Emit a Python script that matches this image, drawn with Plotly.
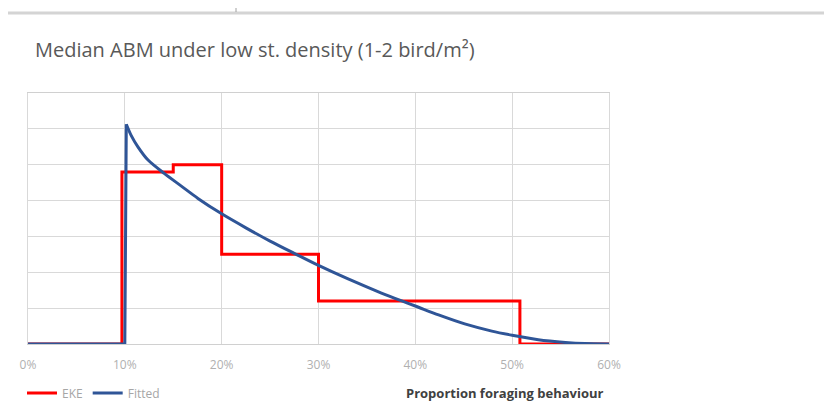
import plotly.graph_objects as go

# EKE step series (proportion foraging, relative density)
eke_x = [0.0, 0.097, 0.15, 0.20, 0.30, 0.508, 0.60]
eke_y = [0.0, 4.8, 5.0, 2.5, 1.2, 0.0, 0.0]

# Fitted curve: rise at 10% and decaying tail
fit_rise_x = [0.0, 0.100, 0.1015]
fit_rise_y = [0.0, 0.0, 6.13]
fit_tail_x = [0.1015, 0.1065, 0.1135, 0.124, 0.141, 0.158, 0.1755, 0.20, 0.225, 0.25,
              0.277, 0.30, 0.33, 0.365, 0.386, 0.40, 0.424, 0.451, 0.479, 0.50,
              0.527, 0.555, 0.575, 0.60]
fit_tail_y = [6.13, 5.82, 5.5, 5.13, 4.75, 4.41, 4.06, 3.63, 3.24, 2.87,
              2.5, 2.19, 1.82, 1.42, 1.2, 1.06, 0.81, 0.56, 0.36, 0.245,
              0.12, 0.045, 0.012, 0.0]

x_ticks = [0, 0.1, 0.2, 0.3, 0.4, 0.5, 0.6]
x_ticklabels = ["0%", "10%", "20%", "30%", "40%", "50%", "60%"]

W, H = 824, 408          # page adds an 8px body margin
L, R, T, B = 20, 223, 85, 72
PW, PH = W - L - R, H - T - B

def px(xs):   # screenshot x -> paper fraction
    return (xs - 8 - L) / PW

def py(ys):   # screenshot y -> paper fraction
    return (H - B - (ys - 8)) / PH

fig = go.Figure()
fig.add_trace(go.Scatter(x=eke_x, y=eke_y, mode="lines", name="EKE",
                         line=dict(color="#ff0000", width=3, shape="hv")))
fig.add_trace(go.Scatter(x=fit_tail_x, y=fit_tail_y, mode="lines", name="Fitted",
                         legendgroup="fit",
                         line=dict(color="#2f5597", width=3, shape="spline", smoothing=0.8)))
fig.add_trace(go.Scatter(x=fit_rise_x, y=fit_rise_y, mode="lines", name="Fitted",
                         legendgroup="fit", showlegend=False,
                         line=dict(color="#2f5597", width=3)))

fig.update_layout(
    width=W, height=H,
    paper_bgcolor="white", plot_bgcolor="white",
    margin=dict(l=L, r=R, t=T, b=B, autoexpand=False),
    font=dict(family="Open Sans, sans-serif", color="#595959"),
    title=dict(text="Median ABM under low st. density (1-2 bird/m²)",
               x=(35 - 8) / W, xanchor="left", y=1 - (50 - 8) / H, yanchor="middle",
               font=dict(size=20, color="#595959", family="Open Sans, sans-serif")),
    xaxis=dict(range=[0, 0.6], tickvals=x_ticks, ticktext=x_ticklabels,
               showgrid=True, gridcolor="#d9d9d9", gridwidth=1,
               zeroline=False, showline=True, linecolor="#d0d0d0", mirror=True,
               tickfont=dict(size=12, color="#b0b0b0"), ticks="", ticklen=0,
               ticklabelstandoff=10),
    yaxis=dict(range=[0, 7], dtick=1, showgrid=True, gridcolor="#d9d9d9",
               gridwidth=1, zeroline=False, showticklabels=False,
               showline=True, linecolor="#d9d9d9", mirror=True),
    showlegend=True,
    legend=dict(orientation="h", x=px(22), xanchor="left", y=py(393), yanchor="middle",
                font=dict(size=12, color="#a6a6a6"),
                itemwidth=30, bgcolor="rgba(0,0,0,0)", tracegroupgap=0),
)

fig.add_annotation(text="<b>Proportion foraging behaviour</b>", xref="paper", yref="paper",
                   x=px(606), y=py(393), xanchor="right", yanchor="middle", showarrow=False,
                   font=dict(size=13, color="#404040", family="Open Sans, sans-serif"))

# page chrome visible at top of the screenshot
fig.add_shape(type="line", xref="paper", yref="paper",
              x0=px(0), x1=px(832), y0=py(13), y1=py(13),
              line=dict(color="#d4d4d4", width=3))
fig.add_shape(type="line", xref="paper", yref="paper",
              x0=px(236), x1=px(236), y0=py(12), y1=py(0),
              line=dict(color="#a0a0a0", width=1))

fig.write_html("out.html")
